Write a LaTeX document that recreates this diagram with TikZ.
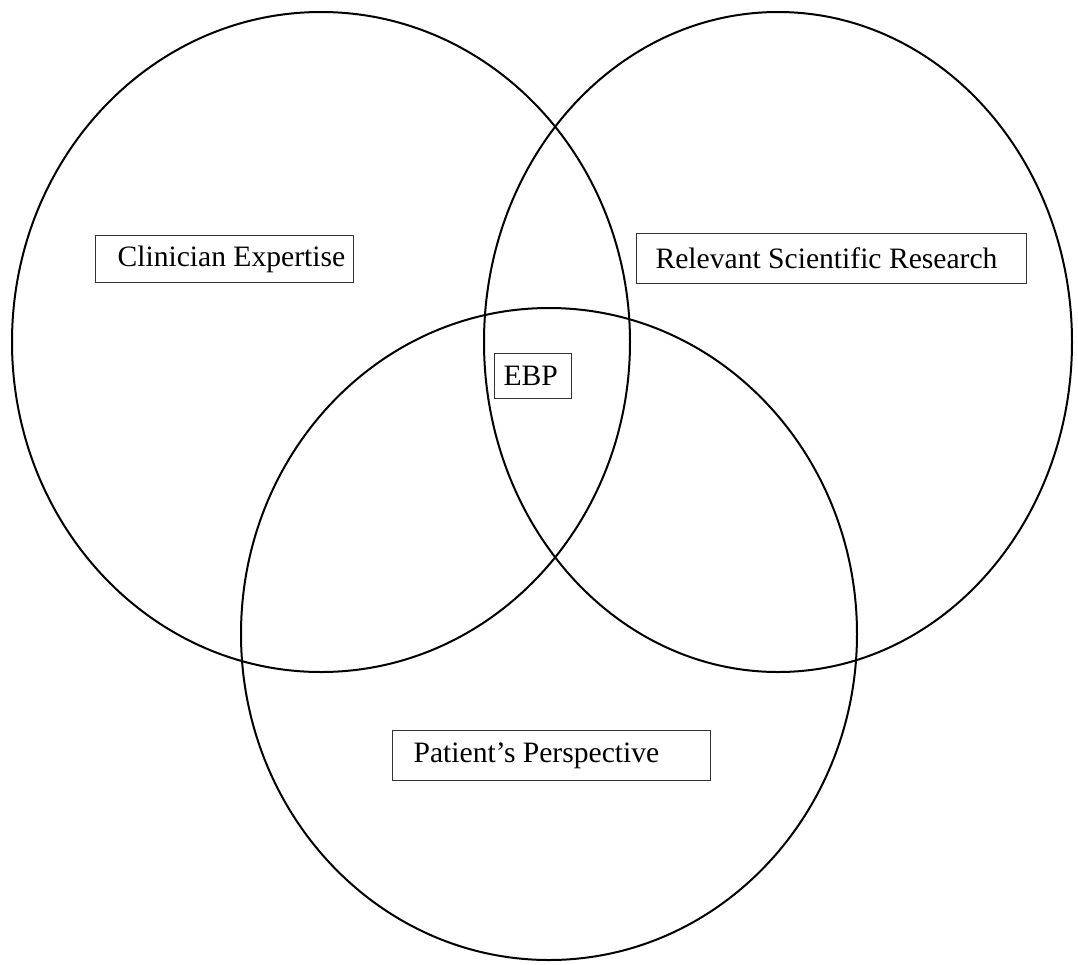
\documentclass[tikz,border=0pt]{standalone}
\usepackage{fontspec}
\setmainfont{Liberation Serif}
\usetikzlibrary{positioning}
\tikzset{
    ring/.style={draw, line width=1pt},
    labelbox/.style={draw, rectangle, line width=0.55pt, draw=black!80, anchor=north west, align=flush left, inner ysep=0pt, font=\fontsize{14.8}{17.5}\selectfont}
}

\begin{document}
\begin{tikzpicture}[x=0.5pt, y=-0.5pt]
\useasboundingbox (0,0) rectangle (1078,965);
% the three circles
\draw[ring] (321,342) ellipse [x radius=309, y radius=330];
\draw[ring] (778,342) ellipse [x radius=294, y radius=330];
\draw[ring] (549,634) ellipse [x radius=308, y radius=326];
% labels
\node[labelbox, inner xsep=11pt, text width=258*0.5pt-22pt, minimum height=23.5pt] (clin) at (95,235) {\mbox{Clinician Expertise}};
\node[labelbox, inner xsep=9.5pt, text width=390*0.5pt-19pt, minimum height=25pt] (res) at (636,233) {\mbox{Relevant Scientific Research}};
\node[labelbox, inner xsep=4.5pt, text width=77*0.5pt-9pt, minimum height=22.5pt] (ebp) at (494,353) {\mbox{EBP}};
\node[labelbox, inner xsep=10.5pt, text width=318*0.5pt-21pt, minimum height=25pt] (pat) at (392,730) {\mbox{Patient’s Perspective}};
\end{tikzpicture}
\end{document}
